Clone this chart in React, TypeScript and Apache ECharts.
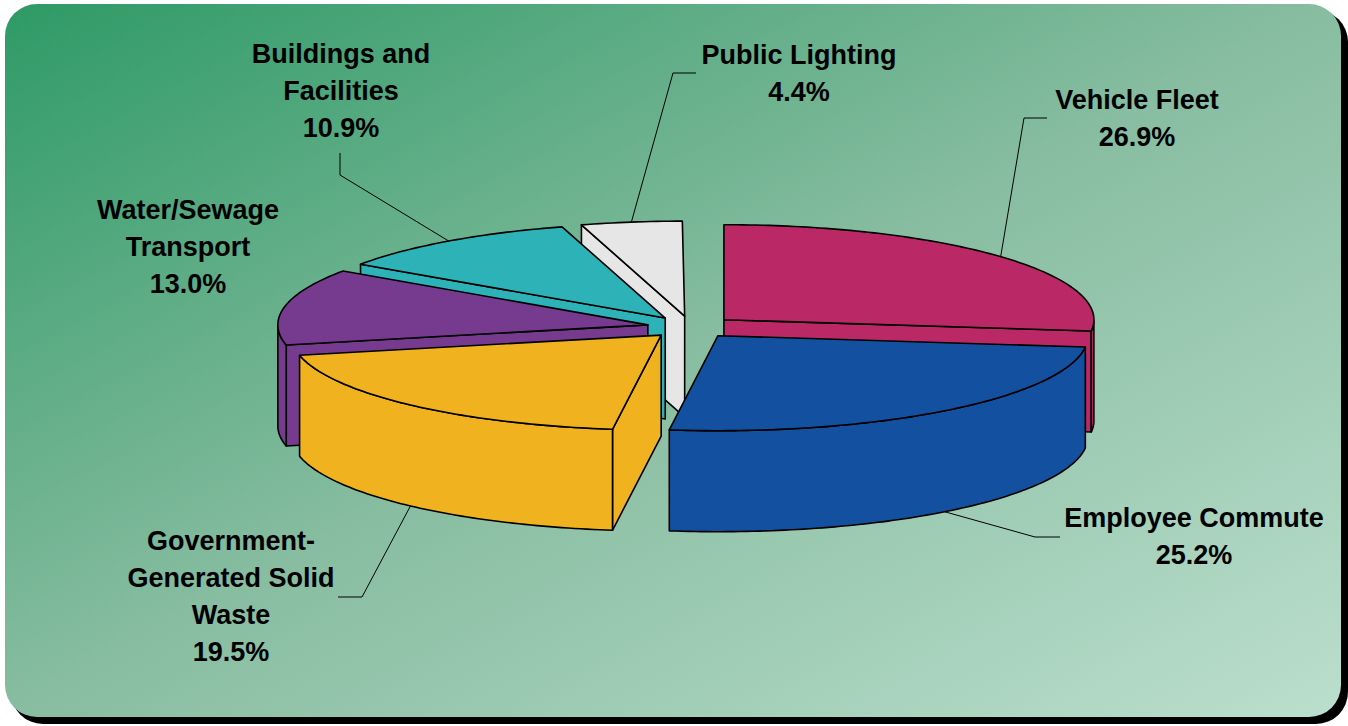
import React, { useEffect, useRef } from "react";
import * as echarts from "echarts";

const categories = ["Vehicle Fleet", "Employee Commute", "Government-\nGenerated Solid\nWaste", "Water/Sewage\nTransport", "Buildings and\nFacilities", "Public Lighting"];
const shares = [26.9, 25.2, 19.5, 13.0, 10.9, 4.4];
const colors = ["#BA2865", "#1450A0", "#F0B21E", "#763A8E", "#2DB2B8", "#E6E6E6"];
const paintOrder = [5, 4, 3, 0, 2, 1];
const labelCentres = [[1137, 100], [1194, 518], [231, 541], [188, 210], [341, 54], [799, 55]];
const leaderElbows: (number[][] | null)[] = [
  [[1024, 118], [1047, 118]],
  [[1035, 537], [1060, 537]],
  [[362, 597], [338, 597]],
  null,
  [[340, 175], [340, 153]],
  [[673, 73], [696, 73]],
];

const CX = 691, CY = 327, RX = 370, RY = 95, DEPTH = 101, EX = 44, EY = 11;
const rad = (d: number) => (d * Math.PI) / 180;
const spans = shares.map((_, i) => {
  const before = shares.slice(0, i).reduce((a, b) => a + b, 0);
  return [(before / 100) * 360, ((before + shares[i]) / 100) * 360];
});
const apex = (i: number) => {
  const m = rad((spans[i][0] + spans[i][1]) / 2);
  return [CX + EX * Math.sin(m), CY - EY * Math.cos(m)];
};
const rim = (i: number, deg: number) => {
  const a = apex(i);
  return [a[0] + RX * Math.sin(rad(deg)), a[1] - RY * Math.cos(rad(deg))];
};
const down = (p: number[]) => [p[0], p[1] + DEPTH];
const INK = { stroke: "#000", lineWidth: 1.6, lineJoin: "round" as const };

function renderSlice(params: any) {
  const i = paintOrder[params.dataIndex];
  const [s, e] = spans[i];
  const fill = colors[i];
  const a = apex(i);
  const arc: number[][] = [];
  const steps = Math.max(8, Math.round(e - s));
  for (let k = 0; k <= steps; k++) arc.push(rim(i, s + ((e - s) * k) / steps));
  const poly = (points: number[][]) => ({ type: "polygon", shape: { points }, style: { fill, ...INK } });
  const children: any[] = [];
  if (Math.sin(rad(s)) < 0) children.push(poly([a, arc[0], down(arc[0]), down(a)]));
  if (Math.sin(rad(e)) > 0) children.push(poly([a, arc[steps], down(arc[steps]), down(a)]));
  const front = arc.filter((_, k) => {
    const d = s + ((e - s) * k) / steps;
    return d >= 90 && d <= 270;
  });
  if (front.length > 1) children.push(poly([...front, ...front.slice().reverse().map(down)]));
  children.push(poly([a, ...arc]));
  return { type: "group", children };
}

const W = 1348, H = 726;

export default function App() {
  const ref = useRef<HTMLDivElement>(null);
  useEffect(() => {
    const chart = echarts.init(ref.current!, null, { renderer: "svg" });
    const leaders = leaderElbows.flatMap((elbow, i) => {
      if (!elbow) return [];
      const mid = (spans[i][0] + spans[i][1]) / 2;
      const p = rim(i, mid);
      const start = mid > 90 && mid < 270 ? down(p) : p;
      return [{ type: "polyline", z: 10, silent: true, shape: { points: [start, ...elbow] }, style: { stroke: "#000", lineWidth: 1, fill: "none" } }];
    });
    const labels = categories.map((name, i) => ({
      type: "text",
      z: 11,
      silent: true,
      x: labelCentres[i][0],
      y: labelCentres[i][1] - 18.5,
      style: {
        text: `${name}\n${shares[i].toFixed(1)}%`,
        fill: "#000",
        font: 'bold 27px "Liberation Sans", Arial, sans-serif',
        lineHeight: 37,
        align: "center",
        verticalAlign: "top",
      },
    }));
    chart.setOption({
      animation: false,
      graphic: [
        { type: "rect", z: -2, silent: true, shape: { x: 11, y: 10, width: 1337, height: 714, r: 32 }, style: { fill: "#000" } },
        {
          type: "rect",
          z: -1,
          silent: true,
          shape: { x: 5, y: 4, width: 1336, height: 713, r: 32 },
          style: {
            fill: new echarts.graphic.LinearGradient(0, 0, 1, 1, [
              { offset: 0, color: "#2E9A66" },
              { offset: 0.5, color: "#88BDA1" },
              { offset: 1, color: "#BBDFCD" },
            ]),
          },
        },
        ...leaders,
        ...labels,
      ],
      series: [
        {
          type: "custom",
          coordinateSystem: "none",
          silent: true,
          renderItem: renderSlice,
          data: paintOrder.map((i) => shares[i]),
        },
      ],
    });
    return () => chart.dispose();
  }, []);
  return <div ref={ref} style={{ position: "fixed", left: 0, top: 0, width: W, height: H, background: "#fff" }} />;
}
